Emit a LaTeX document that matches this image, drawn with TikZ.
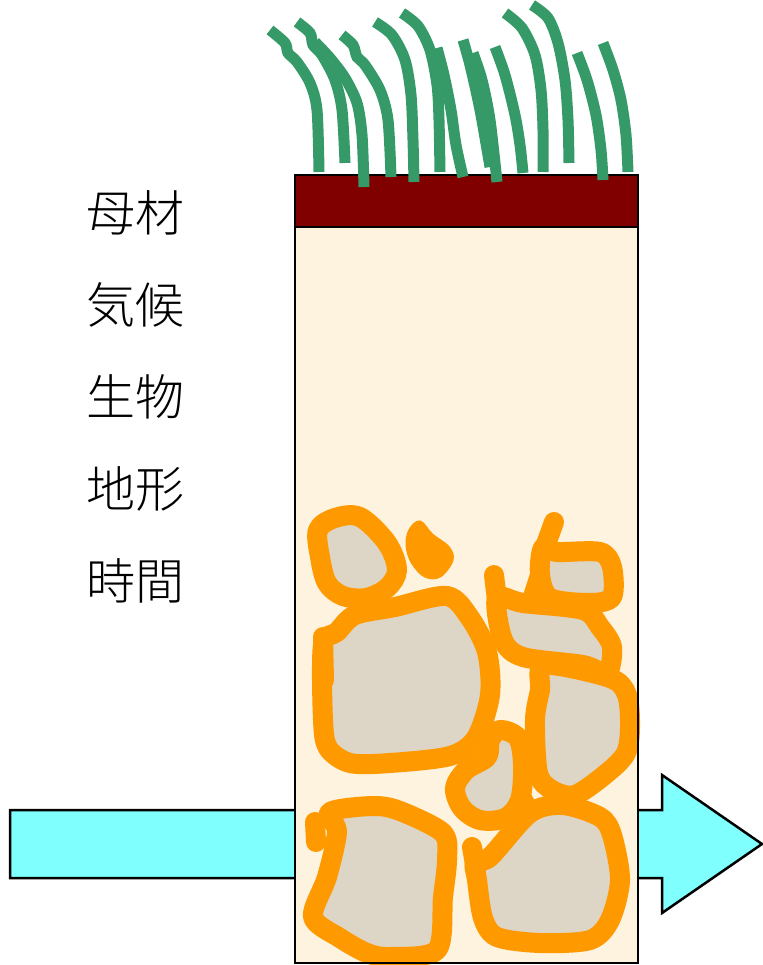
\documentclass[tikz,border=0pt]{standalone}
\usepackage{fontspec}
\newfontfamily\jpfont{Noto Sans CJK JP Light}
\usetikzlibrary{positioning}

\definecolor{grassgreen}{HTML}{359A68}
\definecolor{topsoil}{HTML}{800000}
\definecolor{soilbeige}{HTML}{FDF3DE}
\definecolor{rockgrey}{HTML}{DDD5C5}
\definecolor{rockrim}{HTML}{FF9900}
\definecolor{flowcyan}{HTML}{80FFFF}

\tikzset{
  blade/.style={grassgreen, line width=11pt},
  rock/.style={draw=rockrim, fill=rockgrey, line width=20pt, line join=round},
  rimline/.style={rockrim, line width=20pt, line cap=round},
  factor/.style={font=\jpfont\fontsize{49}{49}\selectfont, inner sep=0pt},
}

\begin{document}
\begin{tikzpicture}[x=1pt, y=-1pt]
    \useasboundingbox (0,0) rectangle (762,965);

    % time arrow behind the profile
    \filldraw[fill=flowcyan, draw=black, line width=2.5pt]
        (10,810) -- (662,810) -- (662,775) -- (762,844) -- (662,913)
        -- (662,878) -- (10,878) -- cycle;

    % soil body
    \fill[soilbeige] (295,227) rectangle (638,963);

    % rocks
    \draw[rock] plot[smooth cycle, tension=0.55] coordinates
        {(318,530) (335,518) (360,517) (387,543) (397,570) (387,588) (366,598) (343,596) (327,583) (320,557)};
    \filldraw[rockrim, line width=3pt] plot[smooth cycle, tension=0.6] coordinates
        {(410,530) (420,522) (432,535) (448,547) (452,560) (440,576) (425,576) (412,562) (407,545)};
    \draw[rock] plot[smooth cycle, tension=0.5] coordinates
        {(323,645) (323,720) (328,748) (350,763) (390,763) (450,756) (476,738) (490,695) (487,652) (470,618) (447,596) (395,607) (355,615) (337,632)};
    \draw[rimline] (323,637) -- (324,680);
    \draw[rock] plot[smooth cycle, tension=0.55] coordinates
        {(500,730) (518,738) (523,765) (520,800) (505,818) (480,820) (462,808) (455,788) (466,770) (487,757) (490,740)};
    \draw[rock] plot[smooth cycle, tension=0.5] coordinates
        {(497,598) (503,640) (523,657) (583,665) (607,673) (612,647) (600,627) (583,610) (523,603)};
    \draw[rimline] (494,575) -- (497,600);
    \draw[rock] plot[smooth cycle, tension=0.5] coordinates
        {(543,548) (557,552) (600,552) (612,567) (612,597) (590,603) (550,598) (540,575)};
    \draw[rimline] (554,522) -- (545,547);
    \draw[rimline] (540,575) -- (531,603);
    \draw[rock] plot[smooth cycle, tension=0.5] coordinates
        {(545,665) (610,678) (627,695) (630,727) (626,753) (607,773) (575,795) (552,790) (538,773) (535,720) (540,690)};
    \draw[rock] plot[smooth cycle, tension=0.5] coordinates
        {(330,812) (373,806) (400,811) (443,833) (447,860) (443,897) (437,950) (390,957) (367,953) (340,938) (313,917) (327,877) (337,832)};
    \draw[rimline] (315,822) -- (316,842);
    \draw[rock] plot[smooth cycle, tension=0.5] coordinates
        {(490,857) (530,813) (563,805) (600,817) (612,835) (620,880) (610,920) (590,940) (540,943) (497,937) (483,918) (477,880) (475,862)};
    \draw[rimline] (472,847) -- (476,870);
    \draw[rimline] (523,800) -- (530,813);

    % profile outline and top horizon
    \draw[line width=2pt] (295,175) rectangle (638,963);
    \filldraw[fill=topsoil, draw=black, line width=2pt] (295,175) rectangle (638,227);

    % grass blades
    \draw[blade] plot[smooth] coordinates {(270,30) (285,43) (288,53) (297,62) (310,83) (317,110) (319,172)};
    \draw[blade] plot[smooth] coordinates {(297,22) (310,33) (313,45) (322,55) (335,80) (342,110) (345,163)};
    \draw[blade] plot[smooth] coordinates {(315,42) (330,58) (345,78) (357,103) (362,135) (364,187)};
    \draw[blade] plot[smooth] coordinates {(342,35) (353,45) (357,57) (365,65) (380,90) (388,120) (391,177)};
    \draw[blade] plot[smooth] coordinates {(375,22) (392,35) (405,60) (411,95) (413,140) (414,182)};
    \draw[blade] plot[smooth] coordinates {(402,13) (418,26) (430,50) (437,85) (439,120) (440,172)};
    \draw[blade] plot[smooth] coordinates {(437,48) (444,75) (451,110) (456,145) (463,177)};
    \draw[blade] plot[smooth] coordinates {(463,40) (470,65) (480,110) (490,167)};
    \draw[blade] plot[smooth] coordinates {(473,53) (482,80) (490,120) (497,182)};
    \draw[blade] plot[smooth] coordinates {(495,47) (505,75) (515,115) (520,145) (523,173)};
    \draw[blade] plot[smooth] coordinates {(505,13) (522,28) (535,55) (541,90) (543,130) (543,172)};
    \draw[blade] plot[smooth] coordinates {(532,5) (548,18) (558,43) (565,80) (568,120) (569,163)};
    \draw[blade] plot[smooth] coordinates {(577,53) (587,80) (596,115) (601,150) (603,180)};
    \draw[blade] plot[smooth] coordinates {(603,43) (613,70) (621,100) (626,135) (628,172)};

    % soil forming factors
    \node[factor] (bozai) at (135,213) {母材};
    \node[factor, on grid, below=92pt of bozai] (kikou) {気候};
    \node[factor, on grid, below=92pt of kikou] (seibutsu) {生物};
    \node[factor, on grid, below=92pt of seibutsu] (chikei) {地形};
    \node[factor, on grid, below=92pt of chikei] (jikan) {時間};
\end{tikzpicture}
\end{document}
